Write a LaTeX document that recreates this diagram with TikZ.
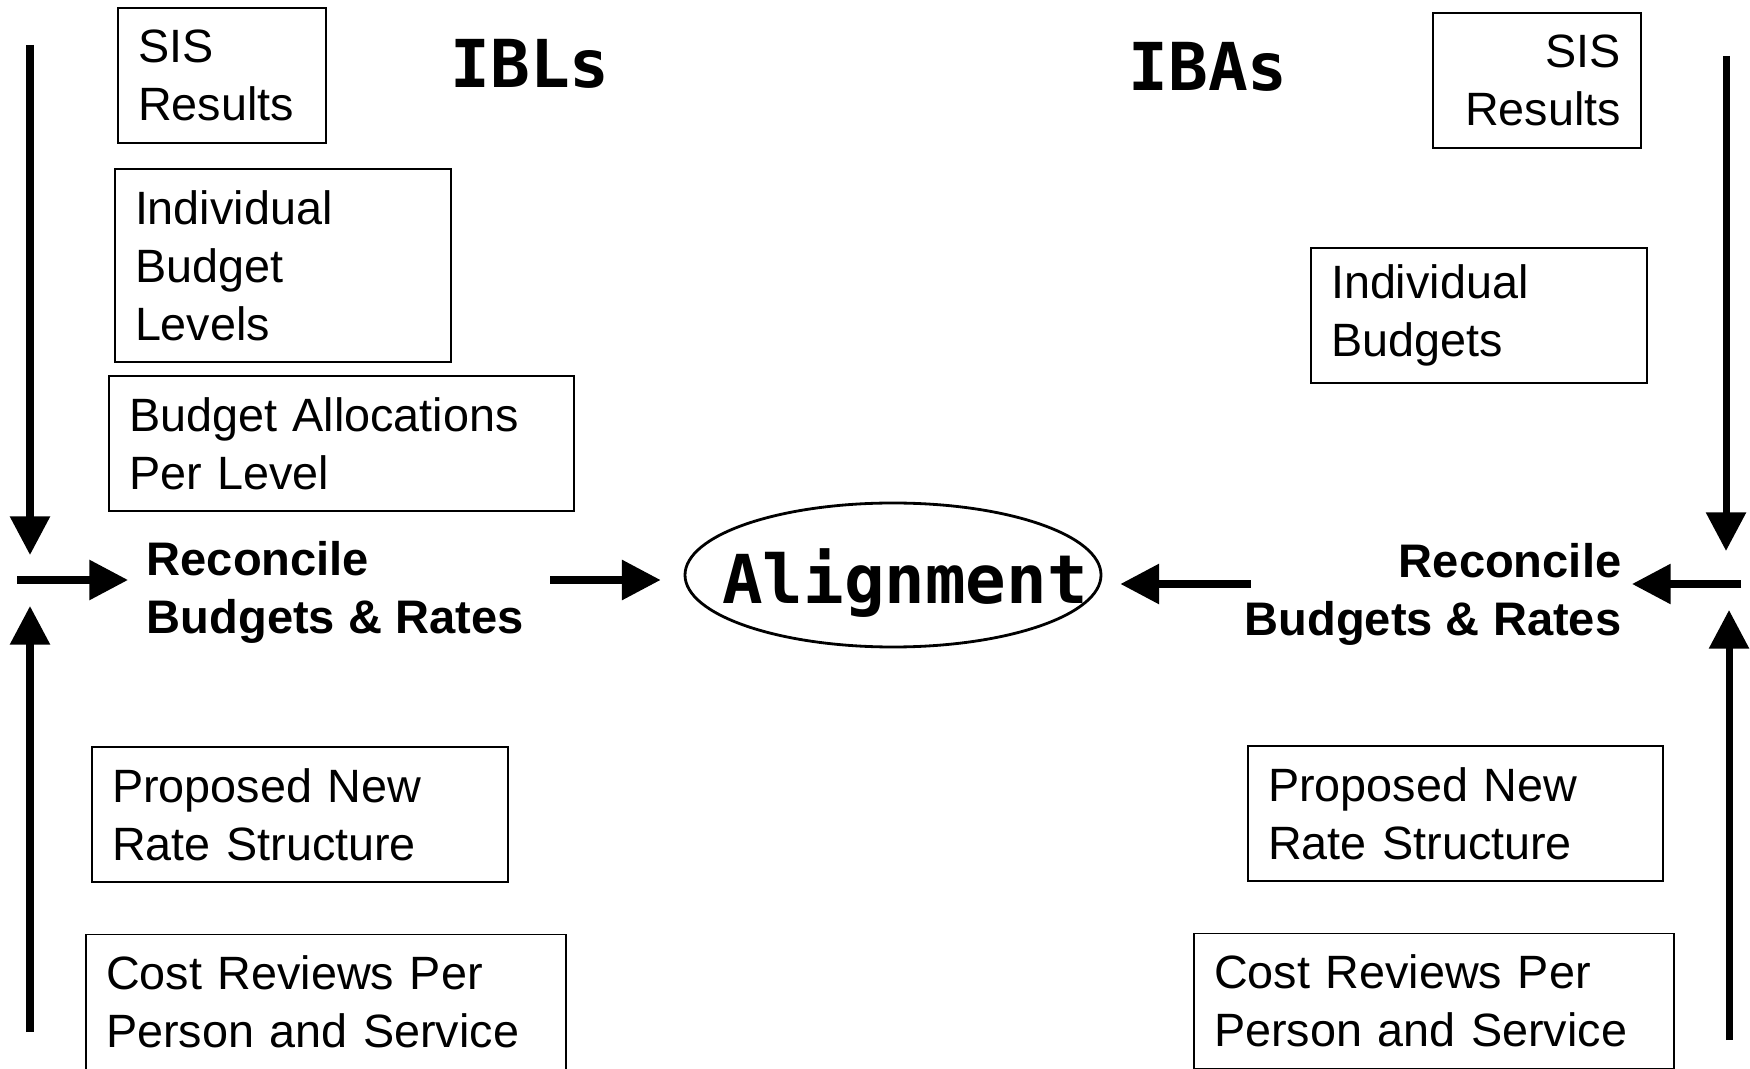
\documentclass[tikz,border=0pt]{standalone}
\usepackage{fontspec}
\setmainfont{Liberation Sans}
\setmonofont{DejaVu Sans Mono}
\usetikzlibrary{arrows.meta,shapes.geometric}

\tikzset{
  box/.style={draw, line width=0.5pt, rectangle, align=left, inner xsep=0.2cm, inner ysep=0pt,
    minimum height=1.35cm, font=\fontsize{13.3}{16.5}\selectfont},
  flow/.style={line width=2pt, -{Triangle[length=11pt,width=11pt]}},
  heading/.style={font=\fontsize{18.8}{22}\selectfont\ttfamily\bfseries},
  recon/.style={font=\fontsize{13.4}{16.5}\selectfont\bfseries, inner ysep=0pt}
}

\begin{document}
\begin{tikzpicture}
		\useasboundingbox (0,0) rectangle (17.5,10.68);
		% IBL side
		\node[box, text width=1.68cm] (sisL) at (2.22,9.925) {SIS\\Results};
		\node[box, text width=2.96cm, minimum height=1.93cm] (ibl) at (2.83,8.025) {Individual\\Budget\\Levels};
		\node[box, text width=4.25cm] (alloc) at (3.415,6.245) {Budget Allocations\\Per Level};
		\node[box, text width=3.76cm] (rateL) at (3.00,2.535) {Proposed New\\Rate Structure};
		\node[box, text width=4.40cm] (costL) at (3.26,0.66) {Cost Reviews Per\\Person and Service};
		\node[heading] (ibls) at (5.30,10.04) {IBLs};
		% IBA side
		\node[box, text width=1.68cm, align=right] (sisR) at (15.37,9.875) {SIS\\Results};
		\node[box, text width=2.96cm] (ib) at (14.79,7.525) {Individual\\Budgets};
		\node[box, text width=3.75cm] (rateR) at (14.555,2.545) {Proposed New\\Rate Structure};
		\node[box, text width=4.40cm] (costR) at (14.34,0.67) {Cost Reviews Per\\Person and Service};
		\node[heading] (ibas) at (12.08,10.01) {IBAs};
		% middle
		\node[ellipse, draw, line width=0.8pt, minimum width=4.16cm, minimum height=1.44cm, inner sep=0pt] (ring) at (8.93,4.93) {};
		\node[font=\fontsize{19.2}{23}\selectfont\ttfamily\bfseries] (align) at ([xshift=0.12cm,yshift=-0.08cm]ring.center) {Alignment};
		\coordinate (lin) at (0.17,4.88);
		\coordinate (rin) at (17.41,4.84);
		\node[recon, align=left, inner xsep=0.18cm, anchor=west] (recL) at (1.28,4.76) {Reconcile\\Budgets \& Rates};
		\node[recon, align=right, inner xsep=0.1cm, anchor=east] (recR) at (16.32,4.74) {Reconcile\\Budgets \& Rates};
		% vertical feeds
		\coordinate (ltop) at (0.30,10.23);
		\coordinate (ldn) at (0.30,5.13);
		\coordinate (lbot) at (0.30,0.36);
		\coordinate (lup) at (0.30,4.62);
		\coordinate (rtop) at (17.26,10.12);
		\coordinate (rdn) at (17.26,5.17);
		\coordinate (rbot) at (17.29,0.28);
		\coordinate (rup) at (17.29,4.58);
		\draw[flow] (ltop) -- (ldn);
		\draw[flow] (lbot) -- (lup);
		\draw[flow] (rtop) -- (rdn);
		\draw[flow] (rbot) -- (rup);
		\draw[flow] (lin) -- (recL.west |- lin);
		\draw[flow] (rin) -- (recR.east |- rin);
		\draw[flow, shorten >=0.23cm, shorten <=0.08cm] (recL.east |- lin) -- (ring.west |- lin);
		\draw[flow, shorten >=0.18cm, shorten <=-0.17cm] (recR.west |- rin) -- (ring.east |- rin);
	\end{tikzpicture}
\end{document}
